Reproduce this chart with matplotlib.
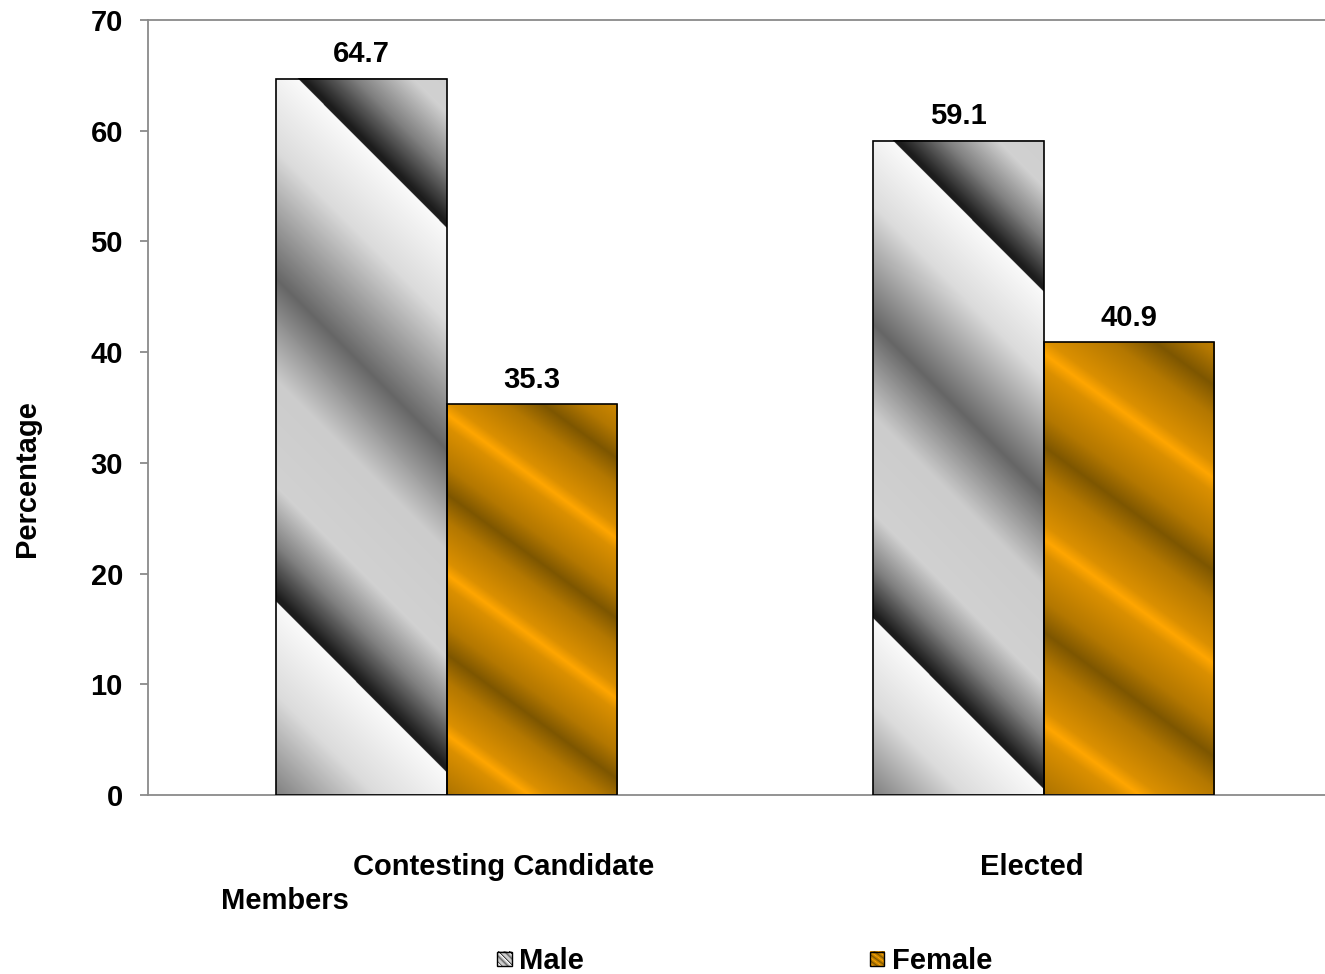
import numpy as np
import matplotlib
matplotlib.use("Agg")
import matplotlib.pyplot as plt
from matplotlib.patches import Patch, Rectangle
from matplotlib.legend_handler import HandlerBase
from matplotlib.image import BboxImage
from matplotlib.transforms import Bbox, TransformedBbox, blended_transform_factory

# ---------------- data ----------------
categories = ["Contesting Candidate", "Elected"]
category_extra = ["Members", ""]
series_names = ["Male", "Female"]
male_values = [64.7, 59.1]
female_values = [35.3, 40.9]
yticks = [0, 10, 20, 30, 40, 50, 60, 70]

# ---------------- style ----------------
plt.rcParams['font.family'] = ['Liberation Sans', 'DejaVu Sans']
plt.rcParams['font.weight'] = 'bold'
FS = 21
GRAY = '#8a8a8a'

W_PX, H_PX = 1325, 974
fig = plt.figure(figsize=(W_PX / 100, H_PX / 100), dpi=100)
ax = fig.add_axes([148 / W_PX, (H_PX - 795) / H_PX, 1194 / W_PX, 775 / H_PX])

# gradient fills -------------------------------------------------------
def male_rgb(u, v, aspect):
    # aspect = bar width / bar height in pixels
    s = v - 1.0 * aspect * u
    q = np.mod(s + 0.03, 0.76)
    stops = [0.0, 0.13, 0.31, 0.45, 0.60, 0.68, 0.752, 0.76]
    vals = [0.98, 0.86, 0.40, 0.80, 0.82, 0.50, 0.11, 0.11]
    g = np.interp(q, stops, vals)
    return np.dstack([g, g, g])

def female_rgb(u, v, aspect):
    s = v - 0.73 * aspect * u
    q = np.mod((s - 0.026) / 0.41, 1.0)
    stops = [0.0, 0.08, 0.33, 0.5, 0.67, 0.92, 1.0]
    vals = [1.0, 0.72, 0.42, 0.0, 0.42, 0.72, 1.0]
    t = np.interp(q, stops, vals)
    dark = np.array([125, 86, 0]) / 255.0
    bright = np.array([255, 166, 0]) / 255.0
    return dark[None, None, :] + (bright - dark)[None, None, :] * t[:, :, None]

def grad_image(func, w_px, h_px, ss=3):
    nx = max(int(w_px * ss), 2)
    ny = max(int(h_px * ss), 2)
    u = np.linspace(0, 1, nx)[None, :].repeat(ny, 0)
    v = np.linspace(0, 1, ny)[:, None].repeat(nx, 1)
    return np.clip(func(u, v, w_px / h_px), 0, 1)

x = np.arange(len(categories))
bw = 0.2864
ax.set_xlim(-0.5, 1.5)
ax.set_ylim(0, 70)

bars_m = ax.bar(x - bw / 2, male_values, bw, facecolor='none', edgecolor='black',
                linewidth=1.2, zorder=3)
bars_f = ax.bar(x + bw / 2, female_values, bw, facecolor='none', edgecolor='black',
                linewidth=1.2, zorder=3)

fig.canvas.draw()
to_px = ax.transData
for bars, func in [(bars_m, male_rgb), (bars_f, female_rgb)]:
    for r in bars:
        x0, y0 = r.get_x(), r.get_y()
        x1, y1 = x0 + r.get_width(), y0 + r.get_height()
        (px0, py0), (px1, py1) = to_px.transform([(x0, y0), (x1, y1)])
        img = grad_image(func, abs(px1 - px0), abs(py1 - py0))
        ax.imshow(img, extent=(x0, x1, y0, y1), aspect='auto', origin='upper',
                  interpolation='antialiased', zorder=2)
ax.set_xlim(-0.5, 1.5)
ax.set_ylim(0, 70)

# value labels
for bars, vals in [(bars_m, male_values), (bars_f, female_values)]:
    for r, v in zip(bars, vals):
        ax.annotate(f"{v:.1f}", (r.get_x() + r.get_width() / 2, v),
                    xytext=(0, 12), textcoords='offset points', ha='center',
                    va='baseline', fontsize=FS, fontweight='bold', zorder=5)

# axes styling
for side in ['left', 'bottom', 'top']:
    ax.spines[side].set_color(GRAY)
    ax.spines[side].set_linewidth(1.3)
ax.spines['right'].set_visible(False)
ax.set_yticks(yticks)
ax.set_yticklabels([str(t) for t in yticks], fontsize=FS, fontweight='bold')
ax.tick_params(axis='y', direction='out', length=6, width=1.3, color=GRAY, pad=12)
ax.set_xticks([])
ax.tick_params(axis='x', length=0)

# category labels
tr = blended_transform_factory(ax.transData, fig.transFigure)
cat_label_x = [0.095, 0.981]
extra_label_x = [-0.27, None]
for cx, lab in zip(cat_label_x, categories):
    ax.text(cx, 1 - 875 / H_PX, lab, transform=tr, ha='center', va='baseline',
            fontsize=FS, fontweight='bold')
for ex, lab in zip(extra_label_x, category_extra):
    if lab:
        ax.text(ex, 1 - 909 / H_PX, lab, transform=tr, ha='center', va='baseline',
                fontsize=FS, fontweight='bold')

fig.text(27 / W_PX, 1 - 479 / H_PX, 'Percentage', rotation=90, ha='center',
         va='center', fontsize=FS, fontweight='bold')

# legend with gradient swatches
class GradientHandler(HandlerBase):
    def __init__(self, img):
        super().__init__()
        self.img = img

    def create_artists(self, legend, orig_handle, xdescent, ydescent, width,
                       height, fontsize, trans):
        side = min(width, height) * 1.0
        x0 = -xdescent + (width - side) / 2
        y0 = -ydescent + (height - side) / 2
        bb = TransformedBbox(Bbox.from_bounds(x0, y0, side, side), trans)
        im = BboxImage(bb, interpolation='antialiased', origin='upper')
        im.set_data(self.img)
        rect = Rectangle((x0, y0), side, side, facecolor='none',
                         edgecolor='black', linewidth=1.0, transform=trans)
        return [im, rect]

h_m = Patch(label=series_names[0])
h_f = Patch(label=series_names[1])
sw_m = grad_image(male_rgb, 40, 40)
sw_f = grad_image(female_rgb, 40, 40)
fig.legend(handles=[h_m, h_f],
           handler_map={h_m: GradientHandler(sw_m), h_f: GradientHandler(sw_f)},
           loc='center', bbox_to_anchor=(744.5 / W_PX, 1 - 961 / H_PX),
           ncol=2, frameon=False, fontsize=FS, prop={'weight': 'bold', 'size': FS},
           handlelength=0.5, handleheight=0.7, handletextpad=0.25,
           columnspacing=9.8, borderpad=0, borderaxespad=0)

fig.savefig('out.png', dpi=100)
